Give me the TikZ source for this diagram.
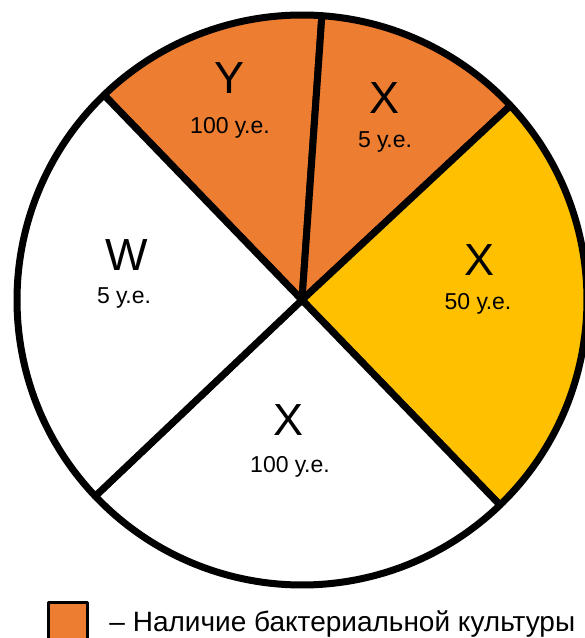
\documentclass[tikz,border=0pt]{standalone}
\usepackage{fontspec}
\setmainfont{Liberation Sans}
\definecolor{orng}{HTML}{ED7D31}
\definecolor{gold}{HTML}{FFC000}

\begin{document}
\begin{tikzpicture}[x=1pt,y=1pt,line width=7pt,line join=round,
  big/.style={inner sep=0pt,anchor=base,font=\fontsize{45}{50}\selectfont},
  small/.style={inner sep=0pt,anchor=base,font=\fontsize{23}{26}\selectfont}]
\useasboundingbox (-302,300) rectangle (283,-338);
\coordinate (o) at (0,0);
% sectors
\filldraw[fill=orng] (o) -- (86:285) arc[start angle=86,end angle=134,radius=285] -- cycle;
\filldraw[fill=orng] (o) -- (43:285) arc[start angle=43,end angle=86,radius=285] -- cycle;
\filldraw[fill=gold] (o) -- (-46:285) arc[start angle=-46,end angle=43,radius=285] -- cycle;
\filldraw[fill=white] (o) -- (223.5:285) arc[start angle=223.5,end angle=314,radius=285] -- cycle;
\filldraw[fill=white] (o) -- (134:285) arc[start angle=134,end angle=223.5,radius=285] -- cycle;
% labels
\node[big] (y) at (-72,207) {Y};
\node[small] (y1) at (-72,167) {100 у.е.};
\node[big] (x) at (83,187) {X};
\node[small] (x1) at (83,153) {5 у.е.};
\node[big] (w) at (-175,30) {W};
\node[small] (w1) at (-178,-3) {5 у.е.};
\node[big] (xg) at (178,25) {X};
\node[small] (xg1) at (176,-9) {50 у.е.};
\node[big] (xb) at (-13,-135) {X};
\node[small] (xb1) at (-12,-172) {100 у.е.};
% legend
\node[draw,line width=3pt,fill=orng,minimum size=39pt,inner sep=0pt,anchor=north west] (key) at (-255,-301) {};
\node[anchor=base west,inner sep=0pt,font=\fontsize{28}{32}\selectfont] (keytext) at (-196,-331) {– Наличие бактериальной культуры};
\end{tikzpicture}
\end{document}
